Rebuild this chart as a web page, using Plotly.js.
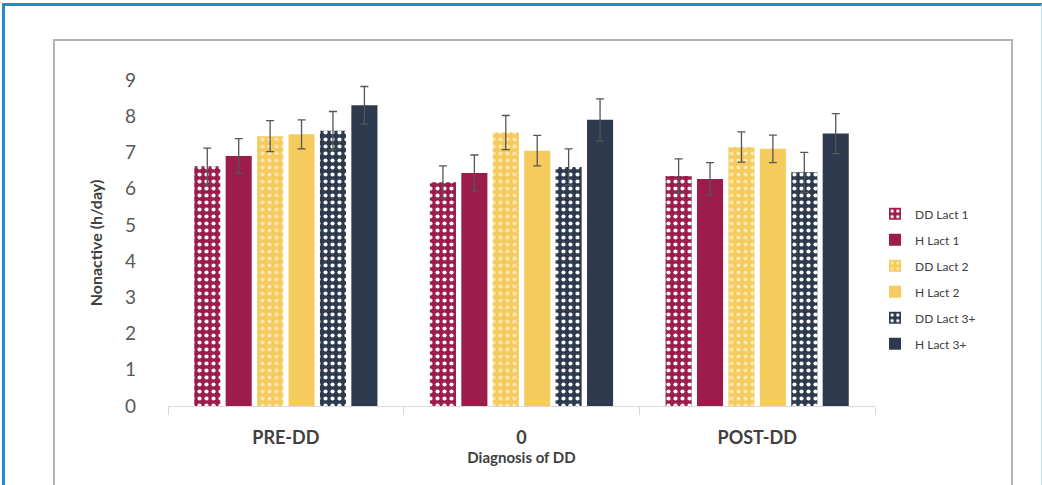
<!DOCTYPE html>
<html>
<head>
<meta charset="utf-8">
<script src="https://cdn.plot.ly/plotly-3.0.1.min.js"></script>
<style>
  html, body { margin: 0; padding: 0; background: #ffffff; }
  #frame { position: absolute; left: 0; top: 0; width: 1042px; height: 485px; overflow: hidden; background: #fff; }
  #blue { position: absolute; left: 2px; top: 3px; width: 1036px; height: 500px; border-left: 3px solid #1b8ed0; border-top: 3px solid #1b8ed0; border-right: 1px solid #bcdcf0; }
  #gray { position: absolute; left: 53px; top: 39px; width: 956px; height: 480px; border: 2px solid #b3b3b3; background: #fff; }
  #chart { position: absolute; left: 0; top: 0; width: 1042px; height: 485px; }
</style>
</head>
<body>
<div id="frame">
  <div id="blue"></div>
  <div id="gray"></div>
  <div id="chart"></div>
</div>
<script>
const categories = ["PRE-DD", "0", "POST-DD"];
const seriesNames = ["DD Lact 1", "H Lact 1", "DD Lact 2", "H Lact 2", "DD Lact 3+", "H Lact 3+"];
const ddLact1 = [6.62, 6.18, 6.35];
const hLact1  = [6.90, 6.43, 6.27];
const ddLact2 = [7.45, 7.55, 7.15];
const hLact2  = [7.50, 7.05, 7.10];
const ddLact3 = [7.60, 6.60, 6.45];
const hLact3  = [8.30, 7.90, 7.52];
const errDD1 = [0.50, 0.45, 0.47];
const errH1  = [0.48, 0.50, 0.45];
const errDD2 = [0.43, 0.47, 0.42];
const errH2  = [0.40, 0.42, 0.38];
const errDD3 = [0.53, 0.50, 0.55];
const errH3  = [0.52, 0.58, 0.55];
const yTicks = [0, 1, 2, 3, 4, 5, 6, 7, 8, 9];

const maroon = "#9c1c4c";
const yellow = "#f6cb5d";
const navy = "#2d3a4e";

const values = [ddLact1, hLact1, ddLact2, hLact2, ddLact3, hLact3];
const errors = [errDD1, errH1, errDD2, errH2, errDD3, errH3];
const colors = [maroon, maroon, yellow, yellow, navy, navy];
const dotted = [true, false, true, false, true, false];
const dotColors = ["#ffffff", null, "#fbe7b0", null, "#ffffff", null];

const traces = values.map((v, i) => {
  const marker = { color: colors[i], line: { width: 0 } };
  if (dotted[i]) {
    marker.pattern = { shape: ".", fgcolor: dotColors[i], bgcolor: colors[i], size: 7, solidity: 0.28, fillmode: "replace" };
  }
  return {
    type: "bar",
    name: seriesNames[i],
    legendgroup: "g" + i,
    x: categories,
    y: v,
    marker: marker,
    error_y: { type: "data", array: errors[i], visible: true, color: "#555555", thickness: 1.3, width: 4 }
  };
});

const font = "Lato, 'Open Sans', sans-serif";
const layout = {
  width: 1042,
  height: 485,
  paper_bgcolor: "rgba(0,0,0,0)",
  plot_bgcolor: "rgba(0,0,0,0)",
  margin: { l: 168, r: 167, t: 80, b: 79 },
  barmode: "group",
  bargap: 0.2,
  bargroupgap: 0.17,
  showlegend: true,
  legend: {
    x: 1.0, xanchor: "left", y: 0.39, yanchor: "middle",
    font: { family: font, size: 12, color: "#404040" },
    traceorder: "grouped",
    tracegroupgap: 7, itemwidth: 30,
    bgcolor: "rgba(0,0,0,0)"
  },
  xaxis: {
    type: "category",
    tickfont: { family: font, size: 18, color: "#404040", weight: "bold" },
    showline: true, linecolor: "#d9d9d9", linewidth: 1,
    ticks: "outside", tickson: "boundaries", ticklen: 8, tickcolor: "#d9d9d9",
    ticklabelstandoff: 15,
    showgrid: false,
    title: { text: "Diagnosis of DD", font: { family: font, size: 15, color: "#404040", weight: "bold" }, standoff: 0 }
  },
  yaxis: {
    range: [0, 9],
    tickvals: yTicks,
    ticktext: yTicks.map(String),
    tickfont: { family: font, size: 19, color: "#595959" },
    showgrid: false, zeroline: false, showline: false,
    ticklabelstandoff: 31,
    title: { text: "Nonactive (h/day)", font: { family: font, size: 16, color: "#404040", weight: "bold" }, standoff: 18 }
  }
};

Plotly.newPlot("chart", traces, layout, { displayModeBar: false, staticPlot: true });
</script>
</body>
</html>
